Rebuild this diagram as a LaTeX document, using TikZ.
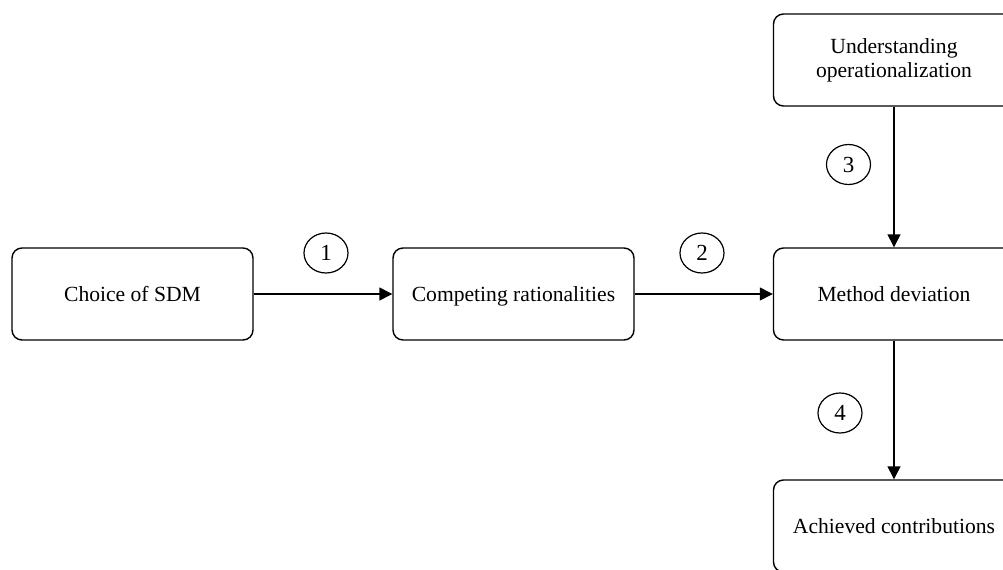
\documentclass[tikz,border=0pt]{standalone}
\usepackage{fontspec}
\setmainfont{Liberation Serif}
\usetikzlibrary{arrows.meta,shapes.geometric}

\begin{document}
\begin{tikzpicture}[x=0.5pt,y=-0.5pt,
    box/.style={draw,line width=0.7pt,rounded corners=5pt,minimum width=120.5pt,
      minimum height=46pt,align=center,text height=8.5pt,text depth=1.5pt,
      font=\fontsize{10.8}{12}\selectfont},
    num/.style={draw,ellipse,line width=0.6pt,minimum width=22pt,minimum height=20pt,
      inner sep=0pt,font=\fontsize{11.5}{12}\selectfont},
    arr/.style={line width=0.7pt,-{Triangle[length=6.5pt,width=6.5pt]}}]
      \useasboundingbox (0,0) rectangle (1003,569);
      \node[box] (sdm) at (132.5, 294) {Choice of SDM};
      \node[box] (comp) at (513.5, 294) {Competing rationalities};
      \node[box] (meth) at (894, 294) {Method deviation};
      \node[box,text height=,text depth=] (under) at (894, 60) {Understanding\\operationalization};
      \node[box] (ach) at (894, 526) {Achieved contributions};
      \node[num] (n1) at (326, 253) {1};
      \node[num] (n2) at (702, 253) {2};
      \node[num] (n3) at (848.5, 164.5) {3};
      \node[num] (n4) at (840, 413) {4};
      \draw [arr] (sdm) to (comp);
      \draw [arr] (comp) to (meth);
      \draw [arr] (under) to (meth);
      \draw [arr] (meth) to (ach);
\end{tikzpicture}
\end{document}
